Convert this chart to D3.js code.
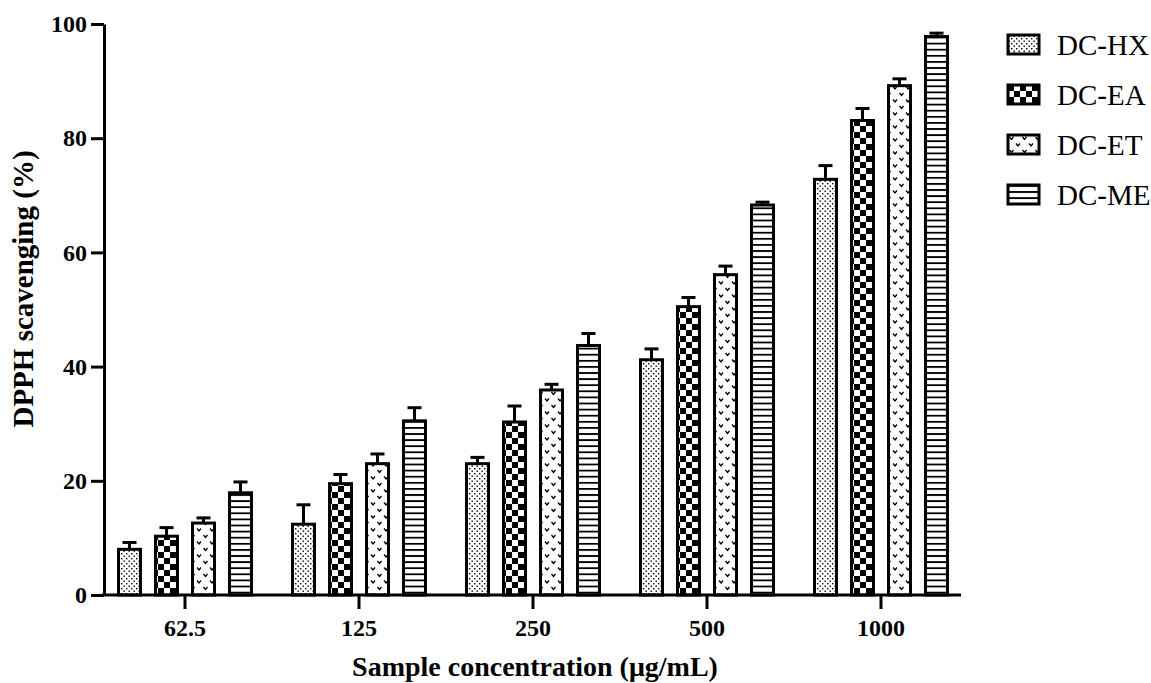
<!DOCTYPE html>
<html>
<head>
<meta charset="utf-8">
<script src="https://cdn.jsdelivr.net/npm/d3@7"></script>
<style>
  body { margin: 0; background: #fff; }
  svg { display: block; font-family: "Liberation Serif", "Times New Roman", serif; }
  .axis text { font-family: "Liberation Serif", "Times New Roman", serif; font-size: 24px; font-weight: bold; fill: #000; }
  .axis line, .axis path { stroke: #000; stroke-width: 3; }
</style>
</head>
<body>
<svg id="chart" width="1151" height="683"></svg>
<script>
// concentrations (ug/mL)
const groups = ['62.5', '125', '250', '500', '1000'];
const series = ['DC-HX', 'DC-EA', 'DC-ET', 'DC-ME'];
const yTicks = [0, 20, 40, 60, 80, 100];

// mean scavenging (%) per extract
const hxMean = [8.0, 12.4, 23.0, 41.2, 72.8];
const eaMean = [10.3, 19.5, 30.3, 50.5, 83.1];
const etMean = [12.6, 23.0, 35.9, 56.1, 89.2];
const meMean = [17.9, 30.5, 43.7, 68.3, 97.8];
// error (upper bar only)
const hxErr = [1.2, 3.4, 1.1, 1.9, 2.4];
const eaErr = [1.5, 1.6, 2.8, 1.6, 2.1];
const etErr = [0.9, 1.7, 1.0, 1.5, 1.2];
const meErr = [1.9, 2.3, 2.1, 0.5, 0.6];

const means = { 'DC-HX': hxMean, 'DC-EA': eaMean, 'DC-ET': etMean, 'DC-ME': meMean };
const errs = { 'DC-HX': hxErr, 'DC-EA': eaErr, 'DC-ET': etErr, 'DC-ME': meErr };
const patternId = { 'DC-HX': 'p-dots', 'DC-EA': 'p-check', 'DC-ET': 'p-vee', 'DC-ME': 'p-hlines' };

const svg = d3.select('#chart');
const barW = 22;

const x0 = d3.scaleBand().domain(groups).range([98, 968]);
const x1 = d3.scaleBand().domain(series).range([13, 161]);
const y = d3.scaleLinear().domain([0, 100]).range([595, 24]);

// fill patterns
const defs = svg.append('defs');
const dots = defs.append('pattern').attr('id', 'p-dots')
  .attr('patternUnits', 'userSpaceOnUse').attr('width', 5).attr('height', 5);
dots.append('rect').attr('width', 5).attr('height', 5).attr('fill', '#fff');
dots.append('rect').attr('x', 0.5).attr('y', 0.5).attr('width', 1.4).attr('height', 1.4).attr('fill', '#000');
dots.append('rect').attr('x', 3).attr('y', 3).attr('width', 1.4).attr('height', 1.4).attr('fill', '#000');

const check = defs.append('pattern').attr('id', 'p-check')
  .attr('patternUnits', 'userSpaceOnUse').attr('width', 12).attr('height', 12);
check.append('rect').attr('width', 12).attr('height', 12).attr('fill', '#fff');
check.append('rect').attr('width', 6).attr('height', 6).attr('fill', '#000');
check.append('rect').attr('x', 6).attr('y', 6).attr('width', 6).attr('height', 6).attr('fill', '#000');

const vee = defs.append('pattern').attr('id', 'p-vee')
  .attr('patternUnits', 'userSpaceOnUse').attr('width', 13).attr('height', 13);
vee.append('rect').attr('width', 13).attr('height', 13).attr('fill', '#fff');
[[3.5, 2], [10, 8.5]].forEach(([cx, cy]) => {
  vee.append('path')
    .attr('d', `M${cx - 2},${cy} L${cx},${cy + 2.5} L${cx + 2},${cy}`)
    .attr('fill', 'none').attr('stroke', '#000').attr('stroke-width', 1.3);
});

const hl = defs.append('pattern').attr('id', 'p-hlines')
  .attr('patternUnits', 'userSpaceOnUse').attr('width', 6).attr('height', 6.1);
hl.append('rect').attr('width', 6).attr('height', 6.1).attr('fill', '#fff');
hl.append('rect').attr('y', 0).attr('width', 6).attr('height', 1.8).attr('fill', '#000');

// bars
const groupG = svg.append('g').selectAll('g')
  .data(groups)
  .join('g')
  .attr('transform', d => `translate(${x0(d)},0)`);

const barData = (g, i) => series.map(s => ({ s, v: means[s][i], e: errs[s][i] }));

groupG.selectAll('g.err')
  .data(barData)
  .join('g')
  .attr('class', 'err')
  .each(function (d) {
    const cx = x1(d.s) + x1.bandwidth() / 2;
    const g = d3.select(this);
    g.append('line')
      .attr('x1', cx).attr('x2', cx)
      .attr('y1', y(d.v)).attr('y2', y(d.v + d.e))
      .attr('stroke', '#000').attr('stroke-width', 3);
    g.append('line')
      .attr('x1', cx - 7).attr('x2', cx + 7)
      .attr('y1', y(d.v + d.e)).attr('y2', y(d.v + d.e))
      .attr('stroke', '#000').attr('stroke-width', 3);
  });

groupG.selectAll('rect.bar')
  .data(barData)
  .join('rect')
  .attr('class', 'bar')
  .attr('x', d => x1(d.s) + (x1.bandwidth() - barW) / 2)
  .attr('width', barW)
  .attr('y', d => y(d.v))
  .attr('height', d => y(0) - y(d.v))
  .attr('fill', d => `url(#${patternId[d.s]})`)
  .attr('stroke', '#000')
  .attr('stroke-width', 3);

// axes
svg.append('g')
  .attr('class', 'axis')
  .attr('transform', 'translate(104,0)')
  .call(d3.axisLeft(y).tickValues(yTicks).tickSize(13).tickSizeOuter(0).tickPadding(4));

const xAxis = svg.append('g')
  .attr('class', 'axis')
  .attr('transform', `translate(0,${y(0)})`)
  .call(d3.axisBottom(x0).tickSize(14).tickSizeOuter(0).tickPadding(10));
xAxis.select('.domain').remove();
xAxis.append('line')
  .attr('x1', 102).attr('x2', x0.range()[1] - 7)
  .attr('stroke', '#000').attr('stroke-width', 3);

// axis titles
svg.append('text')
  .attr('x', 535).attr('y', 676)
  .attr('text-anchor', 'middle')
  .attr('font-size', 28).attr('font-weight', 'bold')
  .text('Sample concentration (μg/mL)');

svg.append('text')
  .attr('transform', 'translate(33,289) rotate(-90)')
  .attr('text-anchor', 'middle')
  .attr('font-size', 29).attr('font-weight', 'bold')
  .text('DPPH scavenging (%)');

// legend
const legend = svg.append('g').selectAll('g')
  .data(series)
  .join('g')
  .attr('transform', (d, i) => `translate(1008,${35 + i * 50})`);
legend.append('rect')
  .attr('width', 31).attr('height', 19)
  .attr('fill', d => `url(#${patternId[d]})`)
  .attr('stroke', '#000').attr('stroke-width', 3);
legend.append('text')
  .attr('x', 49).attr('y', 10)
  .attr('dy', '0.35em')
  .attr('font-size', 29)
  .text(d => d);
</script>
</body>
</html>
